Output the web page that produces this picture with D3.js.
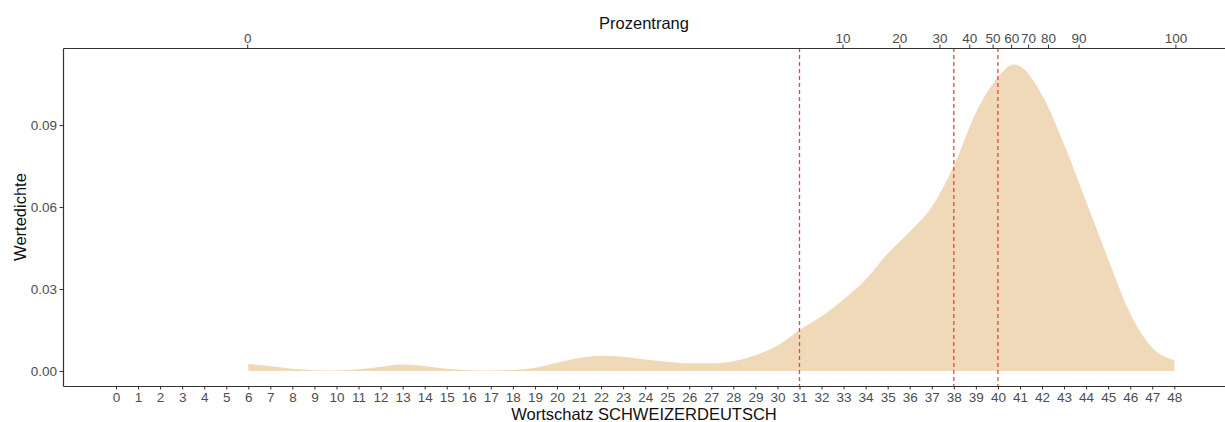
<!DOCTYPE html>
<html><head><meta charset="utf-8">
<script src="https://cdn.jsdelivr.net/npm/d3@7"></script>
<style>body{margin:0;background:#fff}svg{display:block}</style>
</head><body><svg id="c" width="1225" height="422"></svg>
<script>
// raw scores (x) and estimated density values
const scores = [6,7,8,9,10,11,12,13,14,15,16,17,18,19,20,21,22,23,24,25,26,27,28,29,30,31,32,33,34,35,36,37,38,39,40,40.7,41,42,43,44,45,46,47,48];
const density = [0.0026,0.0018,0.0008,0.0003,0.0002,0.0006,0.0016,0.0024,0.0018,0.0008,0.0003,0.0002,0.0004,0.0012,0.0030,0.0048,0.0056,0.0052,0.0042,0.0034,0.0028,0.0028,0.0036,0.0058,0.0092,0.0150,0.0200,0.0262,0.0335,0.0430,0.0510,0.0600,0.0750,0.0945,0.1075,0.1122,0.1115,0.1010,0.0830,0.0620,0.0410,0.0210,0.0085,0.0040];
const bottomTicks = d3.range(0, 49);
const yTicks = [0, 0.03, 0.06, 0.09];
const percentLabels = ["0","10","20","30","40","50","60","70","80","90","100"];
const percentAtScore = [5.95,32.95,35.53,37.35,38.70,39.76,40.60,41.37,42.27,43.66,48.05];
const markerScores = [31, 38, 40];

const svg = d3.select("#c");
const L = 63, R = 1225, T = 48, B = 386;
const xs = d3.scaleLinear().domain([-2.405, 50.3]).range([L, R]);
const ys = d3.scaleLinear().domain([-0.00549, 0.1182]).range([B, T]);

const data = scores.map((s, i) => ({s, d: density[i]}));
svg.append("path").datum(data)
  .attr("fill", "#F0D9B8")
  .attr("d", d3.area().x(d => xs(d.s)).y0(ys(0)).y1(d => ys(d.d)).curve(d3.curveMonotoneX));

svg.selectAll("line.mark").data(markerScores).enter().append("line")
  .attr("x1", d => xs(d)).attr("x2", d => xs(d)).attr("y1", T).attr("y2", B)
  .attr("stroke", "#E8473F").attr("stroke-width", 1.3).attr("stroke-dasharray", "4,3");

const font = "Liberation Sans, Arial, sans-serif";
function style(g){
  g.select(".domain").attr("stroke", "#333").attr("stroke-width", 1.2);
  g.selectAll(".tick line").attr("stroke", "#333").attr("stroke-width", 1);
  g.selectAll(".tick text").attr("fill", "#4D4D4D").style("font-family", font).style("font-size", "13.5px");
}
const gx = svg.append("g").attr("transform", `translate(0,${B})`)
  .call(d3.axisBottom(xs).tickValues(bottomTicks).tickFormat(d3.format("d")).tickSize(3.5).tickSizeOuter(0).tickPadding(2.5));
style(gx);
const gt = svg.append("g").attr("transform", `translate(0,${T})`)
  .call(d3.axisTop(xs).tickValues(percentAtScore).tickFormat((d, i) => percentLabels[i]).tickSize(3.5).tickSizeOuter(0).tickPadding(2));
style(gt);
const gy = svg.append("g").attr("transform", `translate(${L},0)`)
  .call(d3.axisLeft(ys).tickValues(yTicks).tickFormat(d3.format(".2f")).tickSize(3.5).tickSizeOuter(0).tickPadding(2.5));
style(gy);

svg.append("text").attr("x", (L + R) / 2).attr("y", 420).attr("text-anchor", "middle")
  .style("font-family", font).style("font-size", "16.5px").attr("fill", "#111").text("Wortschatz SCHWEIZERDEUTSCH");
svg.append("text").attr("x", (L + R) / 2).attr("y", 28.5).attr("text-anchor", "middle")
  .style("font-family", font).style("font-size", "16.5px").attr("fill", "#111").text("Prozentrang");
svg.append("text").attr("transform", `translate(25.5,${(T + B) / 2}) rotate(-90)`).attr("text-anchor", "middle")
  .style("font-family", font).style("font-size", "16.5px").attr("fill", "#111").text("Wertedichte");
</script></body></html>
